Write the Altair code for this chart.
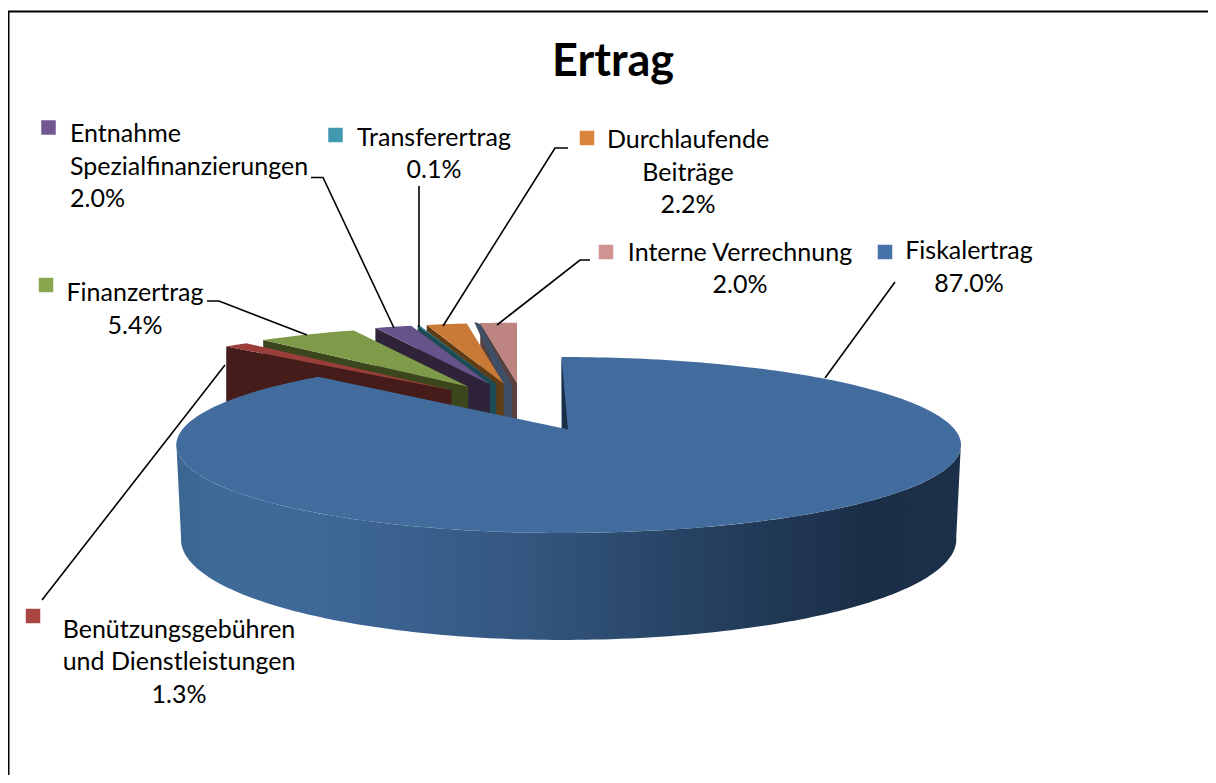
import math
import altair as alt

# ---- data ----
CATEGORIES = ["Fiskalertrag", "Benützungsgebühren und Dienstleistungen", "Finanzertrag",
              "Entnahme Spezialfinanzierungen", "Transferertrag", "Durchlaufende Beiträge",
              "Interne Verrechnung"]
PERCENT = [87.0, 1.3, 5.4, 2.0, 0.1, 2.2, 2.0]
TOP_COLORS = ["#416c9d", "#9a3d3b", "#7f9b49", "#67528a", "#2f8098", "#c97a37", "#bd8482"]
FACE_COLORS = ["#1b2e47", "#451c19", "#3b461d", "#2e2339", "#1c4a55", "#5f3c14", "#5b4040"]
KEY_COLORS = ["#4572a7", "#aa4643", "#89a54e", "#71588f", "#4198af", "#db843d", "#cf9392"]

# ---- geometry of the tilted pie (page pixels minus the 8px margin) ----
OFF = 8
CX, CY = 561.5 - OFF, 428 - OFF
RX_LEFT, RX_RIGHT, RY, PERSP = 378, 392, 84.7, 0.193


def rim(deg, sx=1.0, sy=1.0, ax=CX, ay=CY):
    a = math.radians(deg)
    u, v = math.sin(a), math.cos(a)
    s = 1 / (1 + PERSP * v)
    rx = RX_RIGHT if u > 0 else RX_LEFT
    return [ax + rx * u * s * sx, ay - RY * v * s * sy]


def feature(points, color, rank):
    ring = [[round(x, 2), round(y, 2)] for x, y in points]
    ring.append(ring[0])
    return {"type": "Feature", "geometry": {"type": "Polygon", "coordinates": [ring]},
            "properties": {"color": color, "rank": rank}}


angles = []
acc = 0.0
for p in PERCENT:
    angles.append((acc * 3.6, (acc + p) * 3.6))
    acc += p

DEPTH = 95
slices = []
for i in range(len(PERCENT) - 1, 0, -1):  # rear slices first, nearest-left last
    a0, a1 = angles[i]
    mid = math.radians((a0 + a1) / 2)
    ax = CX - 38 + 103 * math.sin(mid)
    ay = CY - 20.5 - 24.5 * math.cos(mid)
    p0 = rim(a0, 0.925, 0.85, ax, ay)
    face = [p0, [ax, ay], [ax, ay + DEPTH], [p0[0], p0[1] + DEPTH]]
    slices.append(feature(face, FACE_COLORS[i], len(slices)))
    top = [[ax, ay]] + [rim(a0 + (a1 - a0) * k / 8, 0.925, 0.85, ax, ay) for k in range(9)]
    slices.append(feature(top, TOP_COLORS[i], len(slices)))
    if i == len(PERCENT) - 1:  # the slate strip beside the last slice
        strip = [[p0[0] - 6, p0[1] - 1], [p0[0], p0[1] + 1], [ax - 5, ay + 2],
                 [ax - 5, ay + DEPTH], [ax - 14, ay + DEPTH], [ax - 14, ay + 3]]
        slices.append(feature(strip, "#3f4f66", len(slices)))

# the big slice: wall, top, and the dark sliver of its cut face
end = angles[0][1]
blue_top = [[CX, CY]] + [rim(end * k / 240) for k in range(241)]
arc = [rim(100 + 160 * k / 160) for k in range(161)]  # visible front of the rim
low = []
for pt in arc:
    v = (pt[1] - CY) / 105
    low.append([(CX + 7.5) + (pt[0] - CX - 7.5) * 0.988, pt[1] + 92 + 15 * max(v, 0)])
blue_side = arc + low[::-1]
sliver = [[CX, CY - 71], [CX + 6.5, CY + 1.5], [CX + 0.5, CY]]

# ---- labels: text, centre or left x, y ----
LABEL_TEXT = ["Entnahme", "Spezialfinanzierungen", "2.0%",
              "Transferertrag", "0.1%",
              "Durchlaufende", "Beiträge", "2.2%",
              "Interne Verrechnung", "2.0%",
              "Fiskalertrag", "87.0%",
              "Finanzertrag", "5.4%",
              "Benützungsgebühren", "und Dienstleistungen", "1.3%"]
LABEL_X = [70, 70, 70, 434, 434, 688, 688, 688, 740, 740, 969, 969, 135, 135, 179, 179, 179]
LABEL_Y = [134, 167, 199, 138, 170, 140, 173, 205, 253, 285, 251, 284, 293, 326, 630, 662, 695]
LABEL_ALIGN = ["left"] * 3 + ["center"] * 14

KEY_X = [48.5, 335.5, 587, 606, 885, 46, 33]
KEY_Y = [127.5, 135, 138, 252, 252, 285, 616]
KEY_FILL = [KEY_COLORS[3], KEY_COLORS[4], KEY_COLORS[5], KEY_COLORS[6], KEY_COLORS[0], KEY_COLORS[2], KEY_COLORS[1]]

LEADERS = [
    [(895, 282), (825, 378)],
    [(590, 260), (580, 260), (497, 325)],
    [(568, 148), (555, 148), (443, 326)],
    [(419, 186), (419, 327)],
    [(311, 177.5), (323, 177.5), (394, 328)],
    [(207, 301), (219, 301), (307, 335)],
    [(42, 600), (225, 365)],
]

label_rows = [{"t": t, "x": x - OFF, "y": y - OFF} for t, x, y, al in zip(LABEL_TEXT, LABEL_X, LABEL_Y, LABEL_ALIGN) if al == "center"]
left_rows = [{"t": t, "x": x - OFF, "y": y - OFF} for t, x, y, al in zip(LABEL_TEXT, LABEL_X, LABEL_Y, LABEL_ALIGN) if al == "left"]
key_rows = [{"x": x - OFF, "y": y - OFF, "c": c} for x, y, c in zip(KEY_X, KEY_Y, KEY_FILL)]
leader_rows = [{"id": i, "n": n, "x": x - OFF, "y": y - OFF}
               for i, line in enumerate(LEADERS) for n, (x, y) in enumerate(line)]
border_rows = [{"n": 0, "x": 0.5, "y": 767}, {"n": 1, "x": 0.5, "y": 3.5}, {"n": 2, "x": 1200, "y": 3.5}]

PROJ = dict(type="identity", scale=1, translate=[0, 0])
X = alt.X("x:Q", scale=None, axis=None)
Y = alt.Y("y:Q", scale=None, axis=None)
FONT = "Lato"

slice_layer = alt.Chart(alt.Data(values=slices)).mark_geoshape(strokeWidth=0).encode(
    fill=alt.Fill("properties.color:N", scale=None), order="properties.rank:Q").project(**PROJ)
side_layer = alt.Chart(alt.Data(values=[feature(blue_side, "", 0)])).mark_geoshape(
    strokeWidth=0,
    fill=alt.Gradient(gradient="linear", x1=0, y1=0, x2=1, y2=0, stops=[
        alt.GradientStop(offset=0, color="#3a658f"),
        alt.GradientStop(offset=0.05, color="#3e6a9a"),
        alt.GradientStop(offset=0.2, color="#3e6797"),
        alt.GradientStop(offset=0.45, color="#33567f"),
        alt.GradientStop(offset=0.7, color="#243e5c"),
        alt.GradientStop(offset=0.88, color="#1b2e47"),
        alt.GradientStop(offset=1, color="#1c3049"),
    ])).project(**PROJ)
top_layer = alt.Chart(alt.Data(values=[feature(blue_top, "", 0)])).mark_geoshape(
    strokeWidth=0, fill=TOP_COLORS[0]).project(**PROJ)
sliver_layer = alt.Chart(alt.Data(values=[feature(sliver, "", 0)])).mark_geoshape(
    strokeWidth=0, fill=FACE_COLORS[0]).project(**PROJ)

border = alt.Chart(alt.Data(values=border_rows)).mark_line(color="#000000", strokeWidth=2).encode(x=X, y=Y, order="n:Q")
leaders = alt.Chart(alt.Data(values=leader_rows)).mark_line(color="#000000", strokeWidth=1.6).encode(
    x=X, y=Y, detail="id:N", order="n:Q")
keys = alt.Chart(alt.Data(values=key_rows)).mark_square(size=210, opacity=1).encode(
    x=X, y=Y, fill=alt.Fill("c:N", scale=None))
centre_text = alt.Chart(alt.Data(values=label_rows)).mark_text(
    font=FONT, fontSize=25, align="center", baseline="middle", color="#000000").encode(x=X, y=Y, text="t:N")
left_text = alt.Chart(alt.Data(values=left_rows)).mark_text(
    font=FONT, fontSize=25, align="left", baseline="middle", color="#000000").encode(x=X, y=Y, text="t:N")
title = alt.Chart(alt.Data(values=[{"t": "Ertrag", "x": 613 - OFF, "y": 62 - OFF}])).mark_text(
    font=FONT, fontSize=45, fontWeight="bold", align="center", baseline="middle", color="#000000").encode(
    x=X, y=Y, text="t:N")

chart = alt.layer(
    slice_layer, side_layer, top_layer, sliver_layer,
    border, leaders, keys, centre_text, left_text, title
).properties(
    width=1200, height=767, background="#ffffff",
    padding={"left": 0, "right": 0, "top": 0, "bottom": 0},
    autosize=alt.AutoSizeParams(type="none"),
).configure_view(stroke=None)

chart.save("out.html", embed_options={"renderer": "svg", "actions": False})
